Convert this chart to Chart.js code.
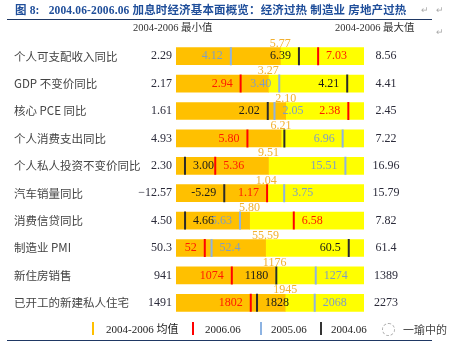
<!DOCTYPE html>
<html>
<head>
<meta charset="utf-8">
<script src="https://cdn.jsdelivr.net/npm/chart.js@4"></script>
<style>
  body { margin: 0; background: #fff; }
  #wrap { position: relative; width: 461px; height: 353px; overflow: hidden; font-family: "Liberation Serif", "Noto Sans CJK SC", serif; }
  #chart { position: absolute; left: 0; top: 0; }
  .abs { position: absolute; white-space: pre; }
  .title { left: 15px; top: 3px; font-size: 11.5px; font-weight: bold; color: #1f4e9a; line-height: 14px; letter-spacing: 0.15px; }
  .rule { position: absolute; left: 7px; width: 425px; height: 0; border-top: 1.5px solid #1f3864; }
  .head { top: 21px; font-size: 10.5px; color: #333; line-height: 14px; }
  .mark { color: #aaa; font-size: 9px; line-height: 12px; }
  .leg { top: 322px; font-size: 11px; color: #222; line-height: 14px; }
  .legline { position: absolute; top: 322px; width: 2px; height: 13px; }
  .wm { left: 403px; top: 322px; font-size: 11px; color: #444; font-family: "Noto Sans CJK SC"; line-height: 14px; }
  .wmicon { position: absolute; left: 382px; top: 323px; width: 11px; height: 11px; border: 1px dashed #aaa; border-radius: 50%; }
</style>
</head>
<body>
<div id="wrap">
  <canvas id="chart" width="461" height="353"></canvas>
  <div class="abs title">图 8:   2004.06-2006.06 加息时经济基本面概览：经济过热 制造业 房地产过热</div>
  <div class="abs mark" style="left:421px;top:4px">↵</div>
  <div class="abs mark" style="left:436px;top:4px">↵</div>
  <div class="rule" style="top:19px"></div>
  <div class="abs head" style="left:133px">2004-2006 最小值</div>
  <div class="abs head" style="left:335px">2004-2006 最大值</div>
  <div class="abs mark" style="left:436px;top:26px">↵</div>

  <div class="legline" style="left:92px;background:#ffc000"></div>
  <div class="abs leg" style="left:106px">2004-2006 均值</div>
  <div class="legline" style="left:192px;background:#ff0000"></div>
  <div class="abs leg" style="left:205px">2006.06</div>
  <div class="legline" style="left:260px;background:#8db3e2"></div>
  <div class="abs leg" style="left:271px">2005.06</div>
  <div class="legline" style="left:320px;background:#333"></div>
  <div class="abs leg" style="left:331px">2004.06</div>
  <div class="wmicon"></div>
  <div class="abs wm">一瑜中的</div>
  <div class="rule" style="top:340px"></div>
</div>
<script>
const categories = ['个人可支配收入同比', 'GDP 不变价同比', '核心 PCE 同比', '个人消费支出同比', '个人私人投资不变价同比',
                    '汽车销量同比', '消费信贷同比', '制造业 PMI', '新住房销售', '已开工的新建私人住宅'];
const minVals  = ['2.29', '2.17', '1.61', '4.93', '2.30', '-12.57', '4.50', '50.3', '941', '1491'];
const maxVals  = ['8.56', '4.41', '2.45', '7.22', '16.96', '15.79', '7.82', '61.4', '1389', '2273'];
const meanVals = ['5.77', '3.27', '2.10', '6.21', '9.51', '1.04', '5.80', '55.59', '1176', '1945'];
const vals2006 = ['7.03', '2.94', '2.38', '5.80', '5.36', '1.17', '6.58', '52', '1074', '1802'];
const vals2005 = ['4.12', '3.40', '2.05', '6.96', '15.51', '3.75', '5.63', '52.4', '1274', '2068'];
const vals2004 = ['6.39', '4.21', '2.02', '6.25', '3.00', '-5.29', '4.66', '60.5', '1180', '1828'];

// which side of its marker each value label sits ('' = no label)
const side2006 = ['r', 'l', 'l', 'l', 'r', 'l', 'r', 'l', 'l', 'l'];
const side2005 = ['l', 'l', 'r', 'l', 'l', 'r', 'l', 'r', 'r', 'r'];
const side2004 = ['l', 'l', 'l', '', 'r', 'l', 'r', 'l', 'l', 'r'];

// each row is scaled between its own min and max
function frac(v, i) {
    const lo = Number(minVals[i]), hi = Number(maxVals[i]);
    return (Number(v) - lo) / (hi - lo);
}

const markers = [
    { vals: vals2006, sides: side2006, line: '#ff0000', text: '#ff1a00' },
    { vals: vals2005, sides: side2005, line: '#8db3e2', text: '#7f9ec4' },
    { vals: vals2004, sides: side2004, line: '#2b2b2b', text: '#1a1a1a' }
];

const labelPlugin = {
    id: 'rowLabels',
    afterDatasetsDraw(chart) {
        const { ctx, chartArea, scales } = chart;
        ctx.save();
        ctx.font = '12px "Liberation Serif"';
        categories.forEach((c, i) => {
            const y = scales.y.getPixelForValue(i);
            ctx.textBaseline = 'middle';
            ctx.fillStyle = '#2b2b3a';
            ctx.textAlign = 'right';
            ctx.fillText(minVals[i].replace('-', '\u2212'), chartArea.left - 4, y);
            ctx.textAlign = 'center';
            ctx.fillText(maxVals[i], chartArea.right + 22, y);

            // mean above the bar
            ctx.fillStyle = '#f2b030';
            ctx.textBaseline = 'alphabetic';
            ctx.fillText(meanVals[i], scales.x.getPixelForValue(frac(meanVals[i], i)), y - 9.5);
        });

        ctx.textBaseline = 'middle';
        markers.forEach((m, k) => {
            const meta = chart.getDatasetMeta(2 + k);
            meta.data.forEach((pt, i) => {
                const side = m.sides[i];
                if (!side) return;
                ctx.fillStyle = m.text;
                ctx.textAlign = side === 'l' ? 'right' : 'left';
                ctx.fillText(m.vals[i], side === 'l' ? pt.x - 8 : pt.x + 8, pt.y);
            });
        });
        ctx.restore();
    }
};

const markerSets = markers.map(m => ({
    type: 'line',
    indexAxis: 'y',
    data: m.vals.map((v, i) => frac(v, i)),
    showLine: false,
    pointStyle: 'line',
    rotation: 90,
    pointRadius: 9,
    pointBorderWidth: 2,
    pointBorderColor: m.line,
    borderColor: m.line,
    order: 1
}));

new Chart(document.getElementById('chart').getContext('2d'), {
    type: 'bar',
    data: {
        labels: categories,
        datasets: [
            {
                data: meanVals.map((v, i) => [0, frac(v, i)]),
                backgroundColor: '#ffc000',
                barThickness: 17,
                grouped: false,
                order: 2
            },
            {
                data: meanVals.map((v, i) => [frac(v, i), 1]),
                backgroundColor: '#ffff00',
                barThickness: 17,
                grouped: false,
                order: 2
            },
            ...markerSets
        ]
    },
    options: {
        indexAxis: 'y',
        responsive: false,
        animation: false,
        events: [],
        layout: { padding: { left: 14, right: 97, top: 42.5, bottom: 36.5 } },
        scales: {
            x: { type: 'linear', min: 0, max: 1, display: false },
            y: {
                grid: { display: false },
                border: { display: false },
                ticks: {
                    crossAlign: 'far',
                    color: '#444',
                    padding: 0,
                    font: { family: '"Noto Sans CJK SC"', size: 11.5 }
                },
                afterFit(scale) { scale.width = 162; }
            }
        },
        plugins: {
            legend: { display: false },
            tooltip: { enabled: false }
        }
    },
    plugins: [labelPlugin]
});
</script>
</body>
</html>
